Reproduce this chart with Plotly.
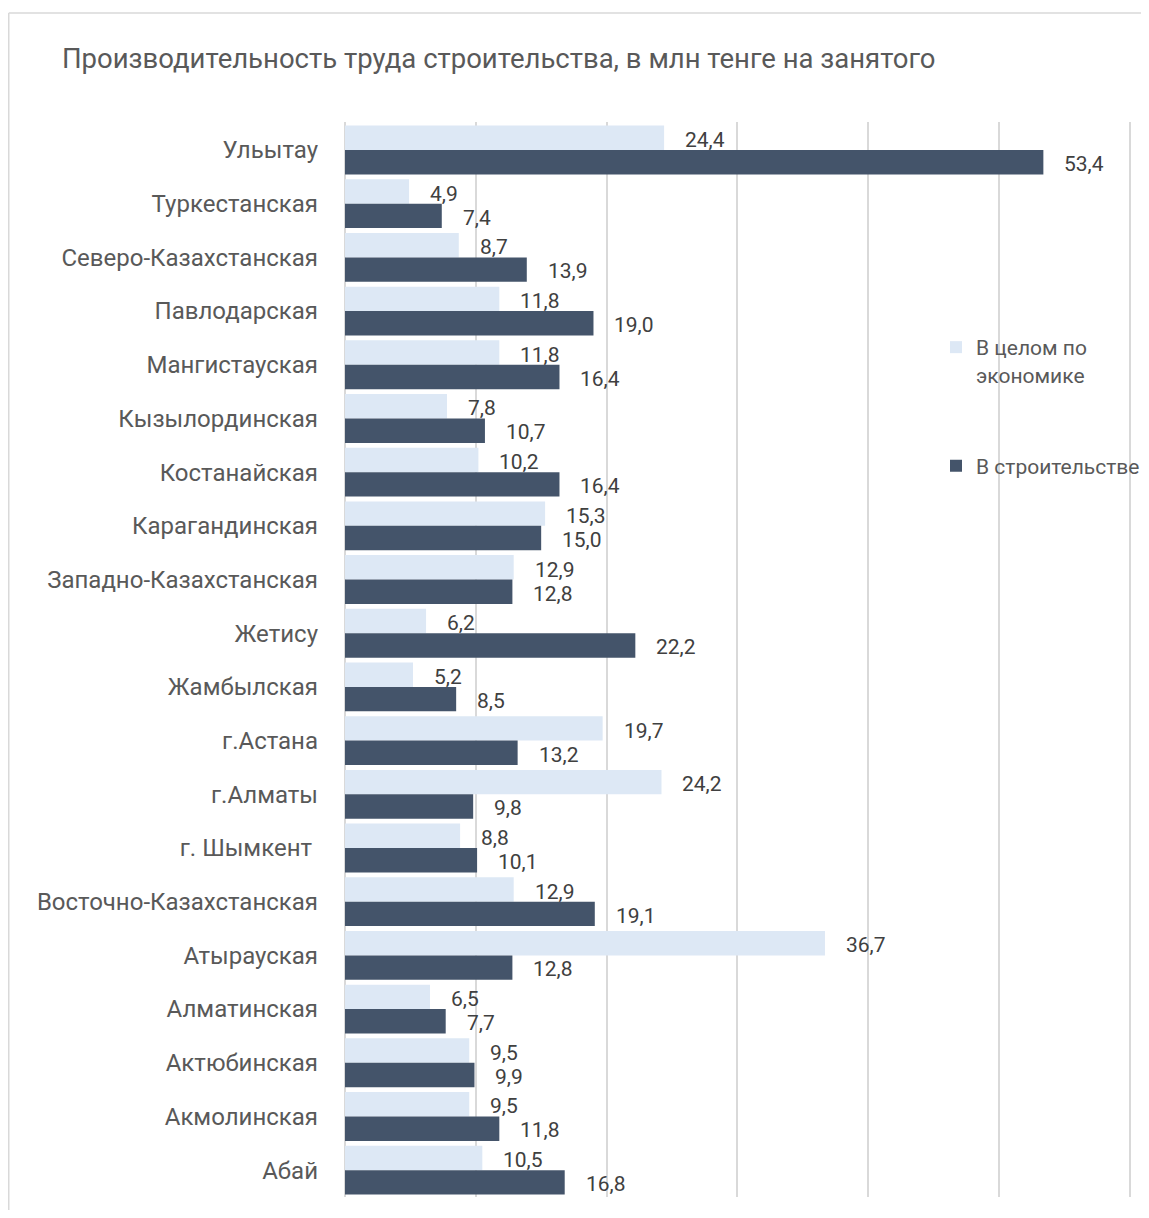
import plotly.graph_objects as go

categories = ["Ульытау", "Туркестанская", "Северо-Казахстанская", "Павлодарская", "Мангистауская",
              "Кызылординская", "Костанайская", "Карагандинская", "Западно-Казахстанская", "Жетису",
              "Жамбылская", "г.Астана", "г.Алматы", "г. Шымкент ", "Восточно-Казахстанская",
              "Атырауская", "Алматинская", "Актюбинская", "Акмолинская", "Абай"]
economy = [24.4, 4.9, 8.7, 11.8, 11.8, 7.8, 10.2, 15.3, 12.9, 6.2,
           5.2, 19.7, 24.2, 8.8, 12.9, 36.7, 6.5, 9.5, 9.5, 10.5]
construction = [53.4, 7.4, 13.9, 19.0, 16.4, 10.7, 16.4, 15.0, 12.8, 22.2,
                8.5, 13.2, 9.8, 10.1, 19.1, 12.8, 7.7, 9.9, 11.8, 16.8]
series_names = ["В целом по<br>экономике", "В строительстве"]
title_text = "Производительность труда строительства, в млн тенге на занятого"

FONT = "Roboto, sans-serif"
LIGHT = "#DDE8F5"
DARK = "#44546A"
TXT = "#595959"

# page body has an 8px margin; express reference coordinates shifted by 8
OFF = 8
W, H = 1149 - 2 * OFF, 1218 - 2 * OFF
ML, MT = 345 - OFF, 122 - OFF
MR = W - (1134 - OFF)
MB = H - (1197 - OFF)
XMAX = 60.33

fig = go.Figure()
fig.add_trace(go.Bar(y=categories, x=economy, orientation="h", name=series_names[0],
                     marker=dict(color=LIGHT, line=dict(width=0)), legendgroup="a"))
fig.add_trace(go.Bar(y=categories, x=construction, orientation="h", name=series_names[1],
                     marker=dict(color=DARK, line=dict(width=0)), legendgroup="b"))

def fmt(v):
    return f"{v:.1f}".replace(".", ",")

ann = []
for c, v in zip(categories, economy):
    ann.append(dict(x=v, y=c, text=fmt(v), xanchor="left", yanchor="middle", showarrow=False,
                    xshift=19, yshift=10, font=dict(family=FONT, size=21, color="#404040")))
for c, v in zip(categories, construction):
    ann.append(dict(x=v, y=c, text=fmt(v), xanchor="left", yanchor="middle", showarrow=False,
                    xshift=19, yshift=-14, font=dict(family=FONT, size=21, color="#404040")))

pw = W - ML - MR
ph = H - MT - MB
bx = (0.75 - ML) / pw
by = 1 + (MT - (13 - OFF)) / ph
shapes = [
    dict(type="line", xref="paper", yref="paper", x0=bx, x1=1 + (MR + 20) / pw,
         y0=by, y1=by, line=dict(color="#D9D9D9", width=1.5)),
    dict(type="line", xref="paper", yref="paper", x0=bx, x1=bx,
         y0=by, y1=-(MB + 20) / ph, line=dict(color="#D9D9D9", width=1.5)),
]

fig.update_layout(
    width=W, height=H,
    margin=dict(l=ML, r=MR, t=MT, b=MB, autoexpand=False),
    paper_bgcolor="white", plot_bgcolor="white",
    barmode="group", bargap=0.09, bargroupgap=0,
    title=dict(text=title_text, x=(62 - OFF) / W, xanchor="left", y=1 - (58 - OFF) / H,
               yanchor="middle", font=dict(family=FONT, size=27.5, color=TXT)),
    font=dict(family=FONT, color=TXT),
    xaxis=dict(range=[0, XMAX], tick0=0, dtick=10, showticklabels=False, showgrid=True,
               gridcolor="#D9D9D9", gridwidth=1.5, zeroline=True, zerolinecolor="#D9D9D9",
               zerolinewidth=1.5, fixedrange=True, automargin=False),
    yaxis=dict(autorange="reversed", showgrid=False, ticks="", ticklabelstandoff=26,
               tickfont=dict(family=FONT, size=24, color=TXT), fixedrange=True,
               automargin=False),
    legend=dict(x=(936 - OFF - ML) / pw, y=1 - (327 - OFF - MT) / ph, xanchor="left",
                yanchor="top", bgcolor="rgba(0,0,0,0)",
                font=dict(family=FONT, size=21, color=TXT),
                traceorder="grouped", tracegroupgap=61, valign="top", itemwidth=30),
    annotations=ann,
    shapes=shapes,
    showlegend=True,
)

fig.write_html("out.html")
